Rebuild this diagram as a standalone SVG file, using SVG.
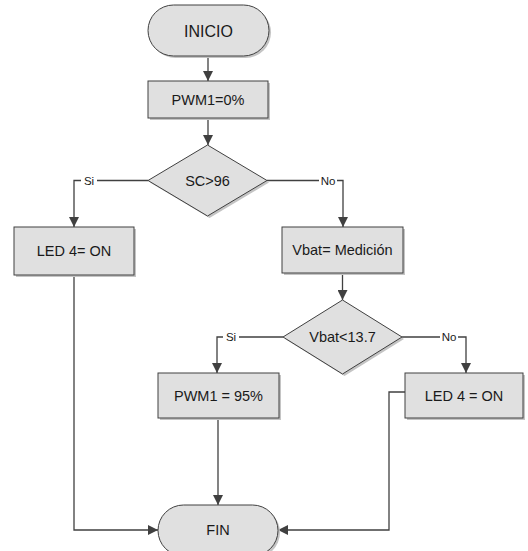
<svg xmlns="http://www.w3.org/2000/svg" width="528" height="551" viewBox="0 0 528 551">
<defs>
<style>
.sh{fill:#c4c4c4;stroke:none}
.nd{fill:#e0e0e0;stroke:#404040;stroke-width:1}
.t{font-family:"Liberation Sans",Arial,sans-serif;font-size:14.5px;fill:#1a1a1a;text-anchor:middle;dominant-baseline:central}
.big{font-size:16px}
.lbl{font-family:"Liberation Sans",Arial,sans-serif;font-size:11.5px;fill:#1a1a1a;text-anchor:middle;dominant-baseline:central}
.c{fill:none;stroke:#404040;stroke-width:1.3}
.lb{fill:#ffffff}
</style>
<marker id="ah" viewBox="0 0 10 10" refX="10" refY="5" markerWidth="10" markerHeight="10" markerUnits="userSpaceOnUse" orient="auto">
<path d="M0,0 L10,5 L0,10 Z" fill="#404040"/>
</marker>
</defs>
<rect width="528" height="551" fill="#ffffff"/>
<g id="connectors">
<path class="c" d="M208,56 V81" marker-end="url(#ah)"/>
<path class="c" d="M208,118 V145" marker-end="url(#ah)"/>
<path class="c" d="M148,180.5 H74 V227" marker-end="url(#ah)"/>
<path class="c" d="M267,180.5 H343 V227" marker-end="url(#ah)"/>
<path class="c" d="M74,275 V530 H158" marker-end="url(#ah)"/>
<path class="c" d="M342.5,273 V300" marker-end="url(#ah)"/>
<path class="c" d="M283,337 H217 V373" marker-end="url(#ah)"/>
<path class="c" d="M402,337 H466 V373" marker-end="url(#ah)"/>
<path class="c" d="M218,418 V505" marker-end="url(#ah)"/>
<path class="c" d="M405,392 H389 V530 H278" marker-end="url(#ah)"/>
<rect class="lb" x="81" y="173" width="16" height="14"/>
<text class="lbl" x="89" y="180.5">Si</text>
<rect class="lb" x="319" y="173" width="18" height="14"/>
<text class="lbl" x="328" y="180.5">No</text>
<rect class="lb" x="223" y="330" width="16" height="14"/>
<text class="lbl" x="231" y="337">Si</text>
<rect class="lb" x="440" y="330" width="18" height="14"/>
<text class="lbl" x="449" y="337">No</text>
</g>
<g id="inicio">
<rect class="sh" x="150" y="7" width="121" height="51" rx="25.5"/>
<rect class="nd" x="148" y="5" width="121" height="51" rx="25.5"/>
<text class="t big" x="208.5" y="31">INICIO</text>
</g>
<g id="pwm0">
<rect class="sh" x="150" y="83" width="120" height="37"/>
<rect class="nd" x="148" y="81" width="120" height="37"/>
<text class="t" x="208" y="100">PWM1=0%</text>
</g>
<g id="sc96">
<polygon class="sh" points="209.5,147 269,182.5 209.5,218 150,182.5"/>
<polygon class="nd" points="207.5,145 267,180.5 207.5,216 148,180.5"/>
<text class="t" x="207.5" y="180.5">SC&gt;96</text>
</g>
<g id="led4a">
<rect class="sh" x="16" y="229" width="120" height="48"/>
<rect class="nd" x="14" y="227" width="120" height="48"/>
<text class="t" x="74" y="251">LED 4= ON</text>
</g>
<g id="vbat">
<rect class="sh" x="284" y="229" width="121" height="46"/>
<rect class="nd" x="282" y="227" width="121" height="46"/>
<text class="t" x="342.5" y="250">Vbat= Medición</text>
</g>
<g id="vbat137">
<polygon class="sh" points="344.5,302 404,339 344.5,376 285,339"/>
<polygon class="nd" points="342.5,300 402,337 342.5,374 283,337"/>
<text class="t" x="342.5" y="337">Vbat&lt;13.7</text>
</g>
<g id="pwm95">
<rect class="sh" x="160" y="375" width="121" height="45"/>
<rect class="nd" x="158" y="373" width="121" height="45"/>
<text class="t" x="218.5" y="396">PWM1 = 95%</text>
</g>
<g id="led4b">
<rect class="sh" x="407" y="375" width="118" height="45"/>
<rect class="nd" x="405" y="373" width="118" height="45"/>
<text class="t" x="464" y="396">LED 4 = ON</text>
</g>
<g id="fin">
<rect class="sh" x="160" y="507" width="120" height="51" rx="25.5"/>
<rect class="nd" x="158" y="505" width="120" height="51" rx="25.5"/>
<text class="t" x="218" y="530">FIN</text>
</g>
</svg>
